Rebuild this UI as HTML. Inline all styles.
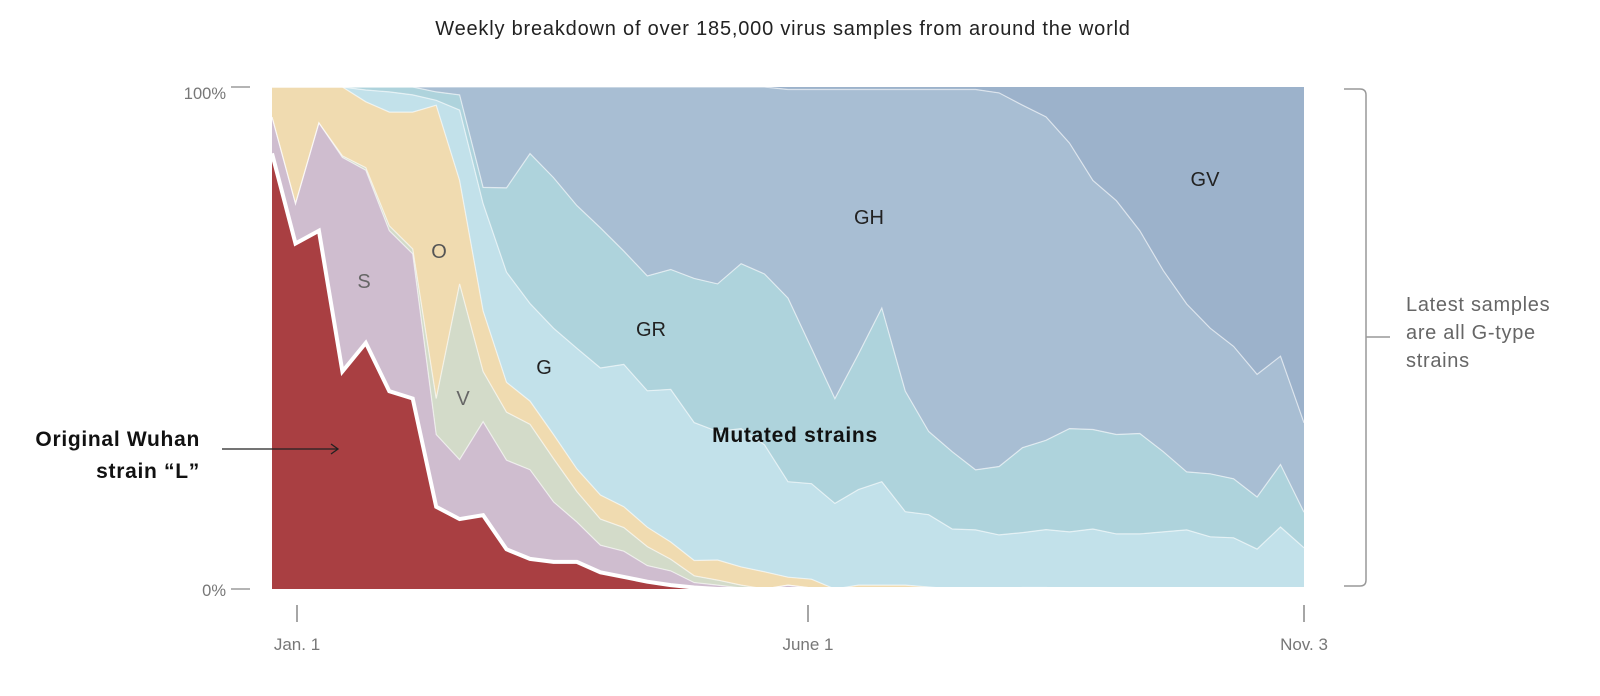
<!DOCTYPE html>
<html><head><meta charset="utf-8">
<style>
html,body{margin:0;padding:0;background:#fff;}
svg{display:block;font-family:"Liberation Sans",sans-serif;}
</style></head>
<body>
<svg id="chart" width="1600" height="696" viewBox="0 0 1600 696">
  <text x="783" y="35" text-anchor="middle" font-size="20" letter-spacing="0.8" fill="#222">Weekly breakdown of over 185,000 virus samples from around the world</text>
  <g id="areas"></g>
  <g id="lines"></g>
  <g>
    <line x1="231" y1="87" x2="250" y2="87" stroke="#888" stroke-width="1.3"/>
    <text x="226" y="99" text-anchor="end" font-size="16.5" fill="#777">100%</text>
    <line x1="231" y1="589" x2="250" y2="589" stroke="#888" stroke-width="1.3"/>
    <text x="226" y="596" text-anchor="end" font-size="16.5" fill="#777">0%</text>
  </g>
  <g id="xaxis"></g>
  <g font-size="20" fill="#555">
    <text x="364" y="288" text-anchor="middle" fill="#666">S</text>
    <text x="439" y="258" text-anchor="middle" fill="#555">O</text>
    <text x="463" y="405" text-anchor="middle" fill="#666">V</text>
    <text x="544" y="374" text-anchor="middle" fill="#222">G</text>
    <text x="651" y="336" text-anchor="middle" fill="#222">GR</text>
    <text x="869" y="224" text-anchor="middle" fill="#222">GH</text>
    <text x="1205" y="186" text-anchor="middle" fill="#222">GV</text>
    <text x="795" y="442" text-anchor="middle" font-weight="bold" font-size="21" letter-spacing="0.7" fill="#111">Mutated strains</text>
  </g>
  <g>
    <text x="200" y="446" text-anchor="end" font-weight="bold" font-size="21" letter-spacing="0.7" fill="#111">Original Wuhan</text>
    <text x="200" y="478" text-anchor="end" font-weight="bold" font-size="21" letter-spacing="0.7" fill="#111">strain “L”</text>
    <line x1="222" y1="449" x2="338" y2="449" stroke="#222" stroke-width="1.3"/>
    <polyline points="331,444 338,449 331,454" fill="none" stroke="#222" stroke-width="1.3"/>
  </g>
  <g>
    <path d="M1344,89 L1360,89 Q1366,89 1366,95 L1366,580 Q1366,586 1360,586 L1344,586" fill="none" stroke="#999" stroke-width="1.5"/>
    <line x1="1366" y1="337" x2="1390" y2="337" stroke="#999" stroke-width="1.5"/>
    <text font-size="20" letter-spacing="0.7" fill="#666">
      <tspan x="1406" y="311">Latest samples</tspan>
      <tspan x="1406" y="339">are all G-type</tspan>
      <tspan x="1406" y="367">strains</tspan>
    </text>
  </g>
</svg>
<script>
const seriesNames = ["L","S","V","O","G","GR","GH","GV"];
const L  = [88.5,70.2,72.8,44.2,50,40.2,38.7,16.7,14.2,15,8.1,6.1,5.5,5.5,3.4,2.5,1.5,0.8,0.3,0,0,0,0,0,0,0,0,0,0,0,0,0,0,0,0,0,0,0,0,0,0,0,0,0,0];
const S  = [7.4,8.1,21.9,43.5,35.1,32.6,29.4,14.7,12.1,19,18.2,18.1,12.2,8.1,5.5,5.3,3.3,2.9,1,0.8,0.2,0,0.8,0.2,0,0,0,0,0,0,0,0,0,0,0,0,0,0,0,0,0,0,0,0,0];
const V  = [0,0,0,0.3,0.5,1,1,7.3,35.7,10.2,9.8,9.2,8.8,6.2,5.3,4.9,3.9,2.4,1.4,1,0.6,0,0,0,0,0,0,0,0,0,0,0,0,0,0,0,0,0,0,0,0,0,0,0,0];
const O  = [6.1,23.7,7.3,14,13.4,23.1,27.8,59.6,21,12.3,6.1,4.7,4.9,4.6,4.9,4.3,4,3.5,3.1,4.1,3.7,3.5,1.6,1.8,0,0.8,0.8,0.8,0.4,0,0,0,0.3,0.3,0,0,0,0,0,0,0,0,0,0,0];
const G  = [0,0,0,0,2.4,4.1,3.5,1,14.3,21.8,22.5,19.8,21.6,24.5,25.8,29.4,28,31.2,28.1,26.1,28.1,25.8,19.4,19.4,17.3,19.4,21,14.9,14.7,12.2,12,11,11.2,11.8,11.6,12.2,11.2,11.2,11.6,12,10.6,10.4,8.1,12.6,8.2];
const GR = [0,0,0,0,0.6,1,1.6,1.7,3.1,3.3,17.2,30.4,30.6,29,28.5,23.4,23.6,24.5,29.4,30,33.5,34.7,37.3,27.5,21.2,27.5,35.3,24.5,16.9,15.7,12.2,13.9,17.3,18.2,21,20.2,20.2,20.4,16.3,11.8,12.8,12,10.6,12.7,7.1];
const GH = [0,0,0,0,0,0,0,1,1.6,20.4,20.6,13.5,18.4,24.1,28.6,33.9,38.8,37.3,39,40,35.9,38,42.4,52.6,62.5,53.8,44.4,61.3,69.5,73.6,77.3,75.9,69.8,65.9,58,50.6,47.5,41.2,36.8,34.1,29.6,26.9,24.9,22,17.8];
const GV = [0,0,0,0,0,0,0,0,0,0,0,0,0,0,0,0,0,0,0,0,0,0,0.5,0.5,0.5,0.5,0.5,0.5,0.5,0.5,0.5,1.2,3.7,6.1,11.4,19,23.1,29.2,37.3,44.1,49,52.7,58.4,54.7,66.9];
const xTickLabels = ["Jan. 1","June 1","Nov. 3"];
const xTickWeeks = [1,22,44];

const series = [L,S,V,O,G,GR,GH,GV];
const colors = ["#a93f42","#cfbdcf","#d3dbc9","#f0dbb0","#c2e1ea","#aed3dc","#a8bed3","#9cb2cb"];
const X0 = 272, X1 = 1304, Y0 = 589, Y1 = 87;
const n = L.length;
function xScale(i){ return X0 + (X1 - X0) * i / (n - 1); }
function yScale(p){ return Y0 - (Y0 - Y1) * p / 100; }

const NS = "http://www.w3.org/2000/svg";
const totals = [];
for (let i = 0; i < n; i++) { let t = 0; for (const s of series) t += s[i]; totals.push(t); }
const cum = [];
let prev = new Array(n).fill(0);
cum.push(prev.slice());
for (const s of series) {
  const next = prev.map((v, i) => v + s[i] / totals[i] * 100);
  cum.push(next); prev = next;
}
const areas = document.getElementById('areas');
const lines = document.getElementById('lines');
for (let k = 0; k < series.length; k++) {
  const lo = cum[k], hi = cum[k + 1];
  let d = "";
  for (let i = 0; i < n; i++) d += (i ? "L" : "M") + xScale(i).toFixed(1) + "," + yScale(hi[i]).toFixed(1);
  for (let i = n - 1; i >= 0; i--) d += "L" + xScale(i).toFixed(1) + "," + yScale(lo[i]).toFixed(1);
  d += "Z";
  const p = document.createElementNS(NS, "path");
  p.setAttribute("d", d);
  p.setAttribute("fill", colors[k]);
  
  
  areas.appendChild(p);
}
for (let k = 1; k < series.length; k++) {
  const hi = cum[k];
  let d = "";
  for (let i = 0; i < n; i++) d += (i ? "L" : "M") + xScale(i).toFixed(1) + "," + yScale(hi[i]).toFixed(1);
  const ln = document.createElementNS(NS, "path");
  ln.setAttribute("d", d);
  ln.setAttribute("fill", "none");
  ln.setAttribute("stroke", k === 1 ? "#ffffff" : "rgba(255,255,255,0.6)");
  ln.setAttribute("stroke-width", k === 1 ? "4" : "1.2");
  ln.setAttribute("stroke-linejoin", "miter");
  
  
  lines.appendChild(ln);
}
const xaxis = document.getElementById('xaxis');
for (let j = 0; j < xTickLabels.length; j++) {
  const x = j === 0 ? 297 : (j === 1 ? 808 : xScale(xTickWeeks[j]));
  const t = document.createElementNS(NS, "line");
  t.setAttribute("x1", x); t.setAttribute("x2", x);
  t.setAttribute("y1", 605); t.setAttribute("y2", 622);
  t.setAttribute("stroke", "#777"); t.setAttribute("stroke-width", "1.3");
  
  
  xaxis.appendChild(t);
  const lb = document.createElementNS(NS, "text");
  lb.setAttribute("x", x); lb.setAttribute("y", 650);
  lb.setAttribute("text-anchor", "middle");
  lb.setAttribute("font-size", "17"); lb.setAttribute("fill", "#777");
  lb.textContent = xTickLabels[j];
  
  
  xaxis.appendChild(lb);
}
</script>
</body></html>
